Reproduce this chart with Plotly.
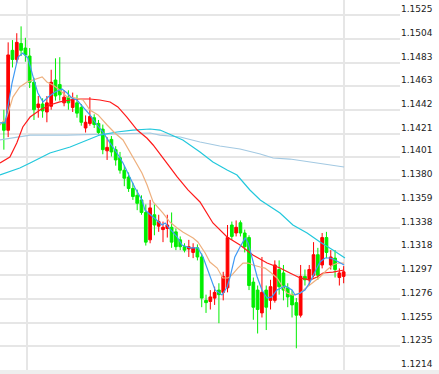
import plotly.graph_objects as go

# ---------------- data ----------------
candle_index = list(range(80))
open_ = [1.1431, 1.1424, 1.1494, 1.1486, 1.1500, 1.1496, 1.1489, 1.1466, 1.1444, 1.1447,
         1.1440, 1.1445, 1.1468, 1.1464, 1.1448, 1.1453, 1.1444, 1.1448, 1.1444, 1.1426,
         1.1430, 1.1435, 1.1430, 1.1425, 1.1406, 1.1416, 1.1407, 1.1400, 1.1389, 1.1383,
         1.1373, 1.1367, 1.1363, 1.1352, 1.1328, 1.1350, 1.1340, 1.1337, 1.1338, 1.1339,
         1.1335, 1.1328, 1.1322, 1.1320, 1.1317, 1.1321, 1.1313, 1.1275, 1.1274, 1.1277,
         1.1284, 1.1282, 1.1286, 1.1341, 1.1334, 1.1343, 1.1334, 1.1330, 1.1291, 1.1284,
         1.1264, 1.1284, 1.1275, 1.1275, 1.1302, 1.1299, 1.1286, 1.1280, 1.1273, 1.1262,
         1.1296, 1.1293, 1.1297, 1.1315, 1.1306, 1.1330, 1.1306, 1.1312, 1.1295, 1.1296]
high = [1.1442, 1.1501, 1.1503, 1.1509, 1.1515, 1.1505, 1.1496, 1.1470, 1.1454, 1.1452,
        1.1454, 1.1477, 1.1487, 1.1488, 1.1459, 1.1459, 1.1457, 1.1455, 1.1447, 1.1437,
        1.1453, 1.1438, 1.1433, 1.1429, 1.1418, 1.1419, 1.1410, 1.1405, 1.1393, 1.1387,
        1.1378, 1.1372, 1.1367, 1.1359, 1.1363, 1.1359, 1.1350, 1.1344, 1.1350, 1.1352,
        1.1338, 1.1331, 1.1325, 1.1328, 1.1325, 1.1324, 1.1316, 1.1280, 1.1284, 1.1287,
        1.1290, 1.1300, 1.1341, 1.1344, 1.1345, 1.1345, 1.1337, 1.1332, 1.1295, 1.1288,
        1.1313, 1.1288, 1.1293, 1.1310, 1.1310, 1.1306, 1.1290, 1.1284, 1.1277, 1.1306,
        1.1302, 1.1306, 1.1326, 1.1321, 1.1334, 1.1335, 1.1319, 1.1319, 1.1303, 1.1305]
low = [1.1407, 1.1418, 1.1479, 1.1483, 1.1489, 1.1484, 1.1461, 1.1433, 1.1435, 1.1435,
       1.1431, 1.1442, 1.1450, 1.1450, 1.1445, 1.1442, 1.1440, 1.1435, 1.1428, 1.1422,
       1.1428, 1.1426, 1.1419, 1.1403, 1.1398, 1.1401, 1.1393, 1.1386, 1.1375, 1.1370,
       1.1363, 1.1354, 1.1350, 1.1323, 1.1325, 1.1332, 1.1335, 1.1326, 1.1330, 1.1321,
       1.1319, 1.1319, 1.1317, 1.1313, 1.1312, 1.1310, 1.1269, 1.1264, 1.1267, 1.1271,
       1.1255, 1.1275, 1.1282, 1.1328, 1.1331, 1.1331, 1.1317, 1.1284, 1.1258, 1.1246,
       1.1260, 1.1249, 1.1267, 1.1273, 1.1280, 1.1275, 1.1269, 1.1260, 1.1233, 1.1260,
       1.1288, 1.1288, 1.1295, 1.1293, 1.1303, 1.1312, 1.1302, 1.1295, 1.1288, 1.1290]
close = [1.1424, 1.1490, 1.1486, 1.1501, 1.1494, 1.1490, 1.1466, 1.1442, 1.1447, 1.1441,
         1.1448, 1.1466, 1.1454, 1.1455, 1.1453, 1.1448, 1.1451, 1.1439, 1.1431, 1.1431,
         1.1436, 1.1429, 1.1422, 1.1407, 1.1409, 1.1405, 1.1398, 1.1389, 1.1382, 1.1373,
         1.1366, 1.1360, 1.1352, 1.1326, 1.1356, 1.1341, 1.1344, 1.1339, 1.1341, 1.1326,
         1.1322, 1.1322, 1.1319, 1.1322, 1.1321, 1.1313, 1.1277, 1.1273, 1.1278, 1.1282,
         1.1280, 1.1296, 1.1330, 1.1331, 1.1339, 1.1334, 1.1322, 1.1288, 1.1269, 1.1267,
         1.1282, 1.1269, 1.1287, 1.1306, 1.1287, 1.1284, 1.1278, 1.1271, 1.1262, 1.1296,
         1.1293, 1.1302, 1.1315, 1.1297, 1.1330, 1.1317, 1.1313, 1.1302, 1.1299, 1.1300]

ma_blue_x = [-0.9, 0.3, 1.9, 3.3, 4.4, 5.6, 6.8, 7.9, 9.1, 10.3, 11.9, 13.5, 14.7, 15.8, 17.0,
             18.4, 20.0, 21.7, 23.0, 24.7, 26.3, 27.7, 29.3, 30.5, 32.1, 32.8, 34.7, 36.8,
             37.5, 38.2, 40.3, 41.4, 43.3, 45.1, 46.3, 47.5, 49.1, 50.7, 51.9, 52.6, 53.7,
             54.9, 56.1, 56.8, 57.7, 58.9, 60.0, 61.2, 62.3, 63.5, 65.4, 67.0, 67.7, 68.9,
             70.0, 71.2, 72.3, 73.5, 74.7, 75.8, 77.0, 78.2, 79.1]
ma_blue_y = [1.14304, 1.14304, 1.14654, 1.14882, 1.14917, 1.14873, 1.14707, 1.14566, 1.14488,
             1.14531, 1.14575, 1.14601, 1.14566, 1.14523, 1.14505, 1.14444, 1.14374, 1.14286,
             1.14225, 1.14128, 1.14041, 1.13953, 1.13831, 1.13734, 1.13629, 1.13541, 1.13480,
             1.13410, 1.13428, 1.13393, 1.13305, 1.13235, 1.13209, 1.13209, 1.13130, 1.12998,
             1.12841, 1.12797, 1.12867, 1.12955, 1.13130, 1.13217, 1.13296, 1.13252, 1.13130,
             1.12955, 1.12841, 1.12771, 1.12780, 1.12841, 1.12876, 1.12841, 1.12797, 1.12814,
             1.12841, 1.12911, 1.12998, 1.13086, 1.13121, 1.13121, 1.13103, 1.13077, 1.13060]

ma_orange_x = [-0.9, 0.7, 2.1, 3.7, 5.4, 6.8, 8.9, 10.0, 11.4, 13.0, 14.7, 16.5, 18.4, 20.0,
               21.9, 24.0, 25.8, 27.7, 30.0, 32.1, 33.3, 34.7, 37.0, 38.6, 40.3, 41.6, 44.0,
               45.1, 46.8, 47.9, 49.6, 50.9, 52.1, 53.0, 54.4, 55.6, 56.8, 57.9, 59.6, 60.7,
               61.9, 63.5, 64.7, 65.8, 67.2, 68.9, 70.5, 71.9, 73.5, 75.1, 76.5, 77.7, 79.1]
ma_orange_y = [1.14286, 1.14356, 1.14531, 1.14619, 1.14663, 1.14680, 1.14707, 1.14663, 1.14636,
               1.14593, 1.14531, 1.14523, 1.14505, 1.14417, 1.14374, 1.14286, 1.14216, 1.14155,
               1.14006, 1.13866, 1.13760, 1.13612, 1.13515, 1.13436, 1.13384, 1.13349, 1.13296,
               1.13261, 1.13165, 1.13086, 1.13033, 1.12946, 1.12946, 1.12972, 1.13033, 1.13077,
               1.13077, 1.13060, 1.13042, 1.13033, 1.12998, 1.12946, 1.12876, 1.12814, 1.12797,
               1.12814, 1.12867, 1.12911, 1.12955, 1.13016, 1.13060, 1.13077, 1.13077]

ma_red_x = [-0.9, 1.4, 3.0, 4.4, 6.1, 8.4, 10.7, 13.0, 15.4, 17.7, 20.0, 22.3, 24.7, 26.5,
            28.6, 31.0, 33.3, 34.7, 37.9, 40.3, 42.8, 45.6, 48.6, 51.9, 54.9, 57.9, 61.2,
            64.2, 66.5, 68.9, 71.2, 72.8, 74.2, 76.5, 79.1]
ma_red_y = [1.13953, 1.14006, 1.14128, 1.14269, 1.14356, 1.14417, 1.14461, 1.14488, 1.14505,
            1.14514, 1.14514, 1.14505, 1.14488, 1.14444, 1.14356, 1.14242, 1.14170, 1.14111,
            1.13953, 1.13831, 1.13717, 1.13612, 1.13428, 1.13305, 1.13235, 1.13147, 1.13077,
            1.13033, 1.12990, 1.12946, 1.12928, 1.12955, 1.12990, 1.12998, 1.13016]

ma_cyan_x = [-0.9, 3.7, 6.1, 10.7, 15.4, 18.4, 22.3, 26.3, 30.0, 34.0, 36.3, 37.9, 41.6,
             45.6, 48.6, 51.9, 54.2, 57.2, 59.6, 64.2, 67.2, 70.5, 73.5, 76.5, 79.3]
ma_cyan_y = [1.13848, 1.13909, 1.13953, 1.14041, 1.14093, 1.14137, 1.14198, 1.14225, 1.14242,
             1.14251, 1.14242, 1.14216, 1.14155, 1.14050, 1.13962, 1.13892, 1.13848, 1.13717,
             1.13629, 1.13515, 1.13410, 1.13340, 1.13261, 1.13191, 1.13121]

ma_lightblue_x = [-0.9, 6.1, 14.7, 22.3, 30.0, 34.0, 36.3, 41.0, 45.6, 50.2, 54.9, 59.6,
                  62.6, 66.5, 79.1]
ma_lightblue_y = [1.14155, 1.14198, 1.14198, 1.14207, 1.14216, 1.14216, 1.14198, 1.14181,
                  1.14137, 1.14102, 1.14076, 1.14032, 1.13997, 1.13988, 1.13918]

tick_labels = ["1.1525", "1.1504", "1.1483", "1.1463", "1.1442", "1.1421", "1.1401", "1.1380",
               "1.1359", "1.1338", "1.1318", "1.1297", "1.1276", "1.1255", "1.1235", "1.1214"]
session_breaks = [5.4, 79.1]

# ---------------- figure ----------------
fig = go.Figure()

def ma(x, y, color):
    fig.add_trace(go.Scatter(x=x, y=y, mode="lines", line=dict(color=color, width=1.2),
                             hoverinfo="skip", showlegend=False))

ma(ma_lightblue_x, ma_lightblue_y, "#a3c9e2")
ma(ma_cyan_x, ma_cyan_y, "#22c8dc")

fig.add_trace(go.Candlestick(
    x=candle_index, open=open_, high=high, low=low, close=close,
    increasing=dict(line=dict(color="#ff0000", width=1), fillcolor="#ff0000"),
    decreasing=dict(line=dict(color="#00ee00", width=1), fillcolor="#00ee00"),
    whiskerwidth=0, showlegend=False,
))

ma(ma_red_x, ma_red_y, "#ff1a1a")
ma(ma_orange_x, ma_orange_y, "#eeb07e")
ma(ma_blue_x, ma_blue_y, "#3d99f5")

fig.update_layout(
    width=439, height=374,
    margin=dict(l=0, r=39, t=0, b=4),
    paper_bgcolor="white", plot_bgcolor="white",
    showlegend=False, boxgap=0.1,
    shapes=[dict(type="rect", xref="paper", yref="paper", x0=0, x1=1.1,
                 y0=-4 / 370, y1=0, fillcolor="#eeeeee", line=dict(width=0), layer="below")],
)
fig.update_xaxes(
    range=[-0.9, 92.1], rangeslider_visible=False,
    tickvals=session_breaks, showticklabels=False, ticks="",
    showgrid=True, gridcolor="#e6e6e6", gridwidth=1.5, zeroline=False, showline=False,
)
fig.update_yaxes(
    range=[1.12140, 1.15381], side="right",
    tickvals=[float(t) for t in tick_labels], ticktext=tick_labels,
    ticklabelposition="outside top", ticks="",
    tickfont=dict(family="DejaVu Sans", size=9, color="#222222"),
    showgrid=True, gridcolor="#e6e6e6", gridwidth=1.5, zeroline=False, showline=False,
)

fig.write_html("out.html", config={"displayModeBar": False},
               post_script="document.body.style.margin='0';")
